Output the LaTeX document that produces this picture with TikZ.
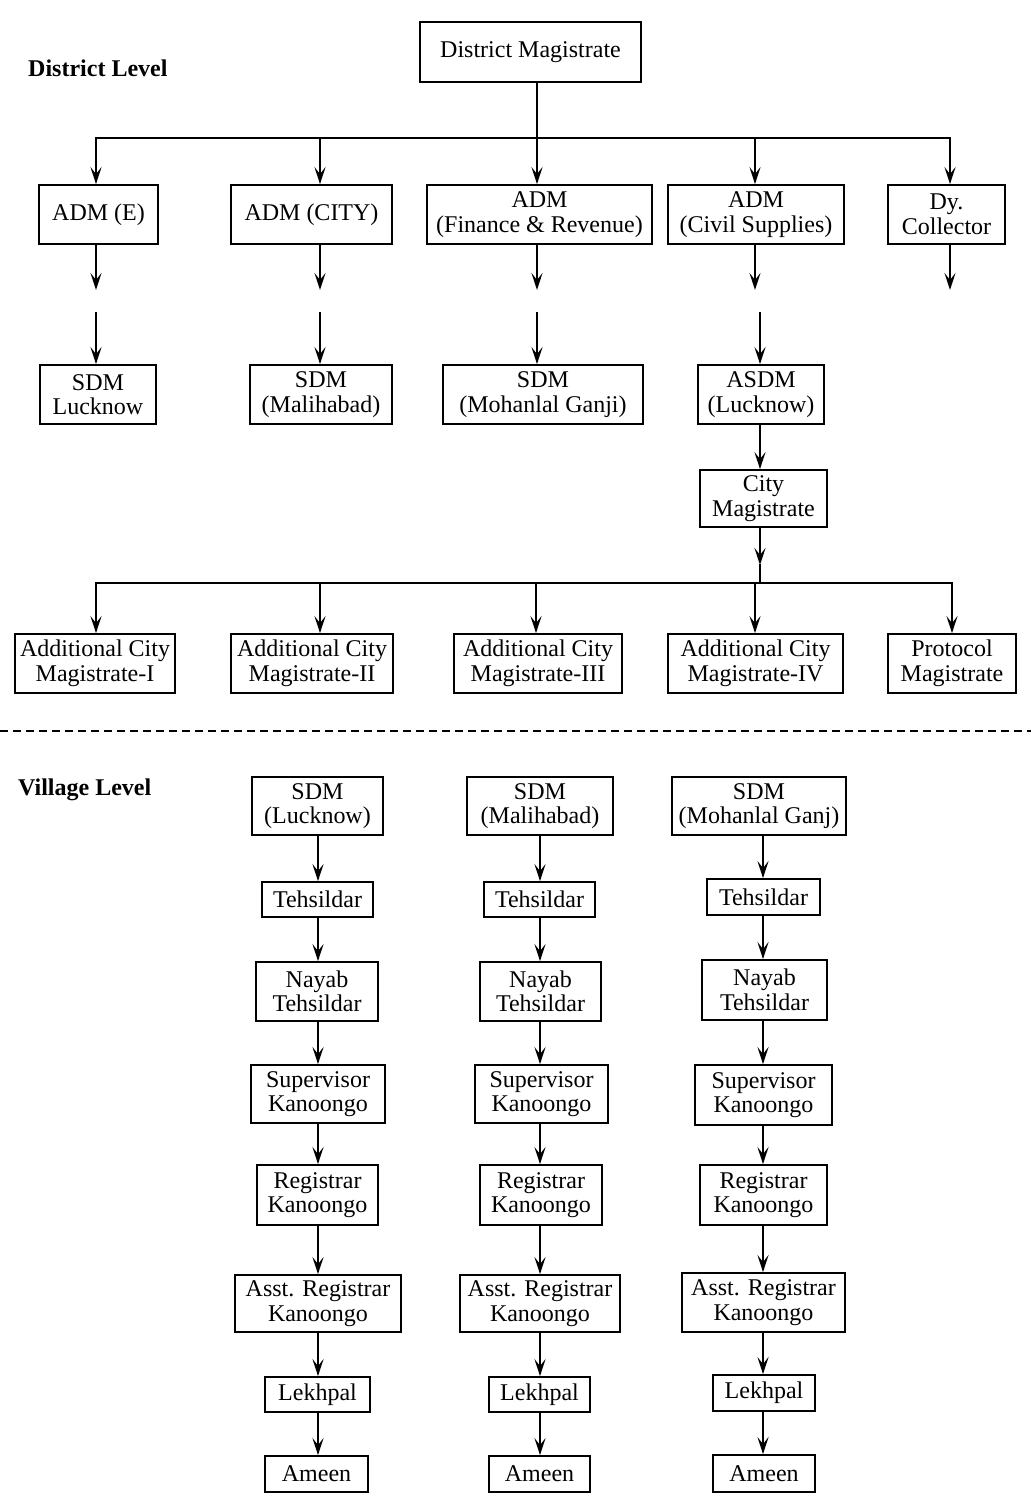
\documentclass[tikz,border=0pt]{standalone}
\usepackage{fontspec}
\setmainfont{Liberation Serif}
\usetikzlibrary{arrows.meta}
\tikzset{
  bx/.style={draw, line width=1.8pt, inner sep=0pt, align=center, font=\fontsize{24}{24.5}\selectfont},
  arr/.style={line width=2.4pt, -{Stealth[length=17pt,width=11pt,inset=7pt]}},
  ln/.style={line width=2.4pt, line cap=rect},
  lvl/.style={font=\fontsize{24}{26}\selectfont\bfseries, anchor=west, inner sep=0pt},
  sep/.style={line width=1.6pt, dash pattern=on 8pt off 5pt}
}
\newcommand\bxn[6]{\node[bx, minimum width=#4pt, minimum height=#5pt] (#1) at (#2,#3) {#6};}
\begin{document}
\begin{tikzpicture}[x=1pt,y=-1pt]
\useasboundingbox (0,0) rectangle (1031,1500);
% labels
\node[lvl] (dlabel) at (28,68) {District Level};
\node[lvl] (vlabel) at (18,790) {Village Level};
% top
\bxn{dm}{530.5}{52}{221}{60}{District Magistrate}
\bxn{admE}{98.5}{214.5}{119}{59}{ADM (E)}
\bxn{admC}{311.5}{214.5}{161}{59}{ADM (CITY)}
\bxn{admF}{539.5}{214.5}{225}{59}{ADM\\(Finance \& Revenue)}
\bxn{admS}{756}{214.5}{176}{59}{ADM\\(Civil Supplies)}
\bxn{dyc}{946.5}{214.5}{117}{59}{Dy.\\Collector}
\bxn{sdmL}{98}{394.5}{116}{59}{SDM\\Lucknow}
\bxn{sdmM}{321}{394.5}{142}{59}{SDM\\(Malihabad)}
\bxn{sdmMG}{543}{394.5}{200}{59}{SDM\\(Mohanlal Ganji)}
\bxn{asdm}{761}{394.5}{126}{59}{ASDM\\(Lucknow)}
\bxn{city}{763.5}{498.5}{127}{57}{City\\Magistrate}
\bxn{acm1}{95}{663.5}{160}{59}{Additional City\\Magistrate-I}
\bxn{acm2}{312}{663.5}{162}{59}{Additional City\\Magistrate-II}
\bxn{acm3}{538}{663.5}{168}{59}{Additional City\\Magistrate-III}
\bxn{acm4}{755.5}{663.5}{175}{59}{Additional City\\Magistrate-IV}
\bxn{prot}{952}{663.5}{128}{59}{Protocol\\Magistrate}
% columns
\coordinate (cA) at (96,138);
\coordinate (cB) at (320,138);
\coordinate (cC) at (537,138);
\coordinate (cD) at (755,138);
\coordinate (cE) at (950,138);
\draw[ln] (dm.south -| cC) -- (cC);
\draw[ln] (cA) -- (cE);
\foreach \c/\n in {cA/admE,cB/admC,cC/admF,cD/admS,cE/dyc}{
  \draw[arr] (\c) -- (\c |- \n.north);
  \draw[arr] (\c |- \n.south) -- (\c |- 0,290);
}
\foreach \c/\n in {cA/sdmL,cB/sdmM,cC/sdmMG}{
  \draw[arr] (\c |- 0,312) -- (\c |- \n.north);
}
\coordinate (cF) at (760,312);
\draw[arr] (cF) -- (cF |- asdm.north);
\draw[arr] (cF |- asdm.south) -- (cF |- city.north);
\coordinate (cm) at (760,565);
\draw[arr] (cm |- city.south) -- (cm);
\coordinate (dA) at (96,583);
\coordinate (dB) at (320,583);
\coordinate (dC) at (536,583);
\coordinate (dD) at (755,583);
\coordinate (dE) at (952,583);
\draw[ln] (cm) -- (cm |- dA);
\draw[ln] (dA) -- (dE);
\foreach \c/\n in {dA/acm1,dB/acm2,dC/acm3,dD/acm4,dE/prot}{
  \draw[arr] (\c) -- (\c |- \n.north);
}
% separator
\coordinate (sl) at (0,731);
\coordinate (sr) at (1031,731);
\draw[sep] (sl) -- (sr);
% village columns
\bxn{aSdm}{317.5}{806}{131}{58}{SDM\\(Lucknow)}
\bxn{aTeh}{317.5}{899.5}{111}{35}{Tehsildar}
\bxn{aNay}{317}{991.5}{122}{59}{Nayab\\Tehsildar}
\bxn{aSup}{318}{1094}{134}{58}{Supervisor\\Kanoongo}
\bxn{aReg}{317.5}{1195}{121}{60}{Registrar\\Kanoongo}
\bxn{aAss}{318}{1303.5}{166}{57}{Asst. Registrar\\Kanoongo}
\bxn{aLek}{317.5}{1394.5}{105}{35}{Lekhpal}
\bxn{aAme}{316.5}{1474}{103}{36}{Ameen}
\bxn{bSdm}{540}{806}{146}{58}{SDM\\(Malihabad)}
\bxn{bTeh}{539.5}{899.5}{111}{35}{Tehsildar}
\bxn{bNay}{540.5}{991.5}{121}{59}{Nayab\\Tehsildar}
\bxn{bSup}{541.5}{1094}{133}{58}{Supervisor\\Kanoongo}
\bxn{bReg}{541}{1195}{122}{60}{Registrar\\Kanoongo}
\bxn{bAss}{540}{1303.5}{160}{57}{Asst. Registrar\\Kanoongo}
\bxn{bLek}{539.5}{1394.5}{101}{35}{Lekhpal}
\bxn{bAme}{539.5}{1474}{101}{36}{Ameen}
\bxn{cSdm}{759}{806}{174}{58}{SDM\\(Mohanlal Ganj)}
\bxn{cTeh}{763.5}{897}{113}{36}{Tehsildar}
\bxn{cNay}{764.5}{990}{125}{60}{Nayab\\Tehsildar}
\bxn{cSup}{763.5}{1095}{137}{60}{Supervisor\\Kanoongo}
\bxn{cReg}{763.5}{1195}{127}{60}{Registrar\\Kanoongo}
\bxn{cAss}{763.5}{1302.5}{163}{59}{Asst. Registrar\\Kanoongo}
\bxn{cLek}{764}{1393}{102}{36}{Lekhpal}
\bxn{cAme}{764}{1473.5}{102}{37}{Ameen}
\coordinate (xa) at (318,0);
\coordinate (xb) at (540,0);
\coordinate (xc) at (763,0);
\foreach \x/\p in {xa/a,xb/b,xc/c}{
  \foreach \u/\v in {Sdm/Teh,Teh/Nay,Nay/Sup,Sup/Reg,Reg/Ass,Ass/Lek,Lek/Ame}{
    \draw[arr] (\x |- \p\u.south) -- (\x |- \p\v.north);
  }
}
\end{tikzpicture}
\end{document}
